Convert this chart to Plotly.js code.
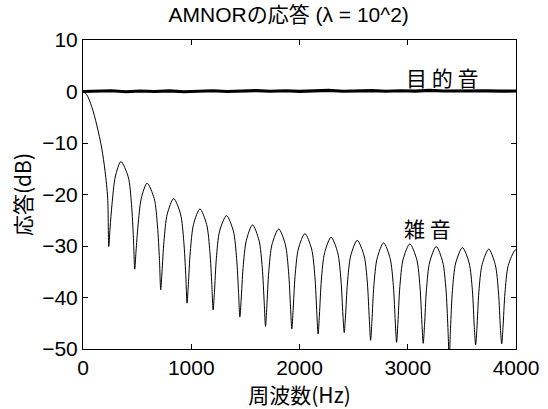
<!DOCTYPE html>
<html>
<head>
<meta charset="utf-8">
<script src="https://cdn.plot.ly/plotly-3.0.1.min.js"></script>
<style>html,body{margin:0;padding:0;background:#fff;}#chart{width:548px;height:409px;}</style>
</head>
<body>
<div id="chart"></div>
<script>
// Title / labels
const chartTitle = 'AMNORの応答 (λ = 10^2)';
const xLabel = '周波数(Hz)';
const yLabel = '応答(dB)';
const targetLabel = '目 的 音';
const noiseLabel = '雑 音';

// ticks
const xTicks = [0, 1000, 2000, 3000, 4000];
const yTicks = [-50, -40, -30, -20, -10, 0, 10];

// 目的音 (target) response, frequency (Hz) and level (dB)
const targetFreq = [0, 120, 260, 400, 530, 660, 800, 930, 1060, 1200, 1330, 1460, 1600, 1730, 1870, 2000, 2130, 2270, 2400, 2530, 2670, 2800, 2930, 3070, 3200, 3330, 3470, 3600, 3730, 3870, 4000];
const targetDb   = [0.0, 0.05, 0.15, -0.05, 0.1, 0.0, 0.12, -0.05, 0.08, 0.15, 0.0, 0.1, 0.18, 0.05, 0.15, 0.02, 0.1, 0.2, 0.05, 0.12, 0.18, 0.05, 0.15, 0.08, 0.2, 0.1, 0.15, 0.05, 0.12, 0.08, 0.1];

// 雑音 (noise) response, frequency (Hz) and level (dB)
const noiseFreq = [
  0, 34, 80, 127, 173, 204, 228,
  238, 250, 268, 298, 350, 418, 448, 466,
  478, 490, 508, 538, 592, 658, 688, 706,
  718, 730, 748, 778, 838, 901, 931, 949,
  961, 973, 991, 1021, 1080, 1142, 1172, 1190,
  1202, 1214, 1232, 1262, 1326, 1389, 1419, 1437,
  1449, 1461, 1479, 1509, 1566, 1626, 1656, 1674,
  1686, 1698, 1716, 1746, 1808, 1869, 1899, 1917,
  1929, 1941, 1959, 1989, 2050, 2112, 2142, 2160,
  2172, 2184, 2202, 2232, 2292, 2353, 2383, 2401,
  2413, 2425, 2443, 2473, 2533, 2597, 2627, 2645,
  2657, 2669, 2687, 2717, 2777, 2837, 2867, 2885,
  2897, 2909, 2927, 2957, 3019, 3083, 3113, 3131,
  3143, 3155, 3173, 3203, 3263, 3323, 3353, 3371,
  3383, 3395, 3413, 3443, 3505, 3567, 3597, 3615,
  3627, 3639, 3657, 3687, 3748, 3808, 3838, 3856,
  3868, 3880, 3898, 3928, 3990, 4000
];
const noiseDb = [
  0, -0.6, -2.9, -6.5, -11, -15.5, -20.7,
  -30.1, -26.5, -21.9, -16.6, -13.6, -16.6, -21.9, -28.5,
  -34.5, -31, -26.1, -20.8, -17.8, -20.8, -26.1, -32.5,
  -38.5, -35, -29.1, -23.8, -20.8, -23.8, -29.1, -35.5,
  -41.1, -37.5, -31.1, -25.8, -22.8, -25.8, -31.1, -37.5,
  -42.4, -39, -32.4, -27.1, -24.1, -27.1, -32.4, -39,
  -43.8, -40.5, -34.2, -28.9, -25.9, -28.9, -34.2, -41,
  -45.6, -41.8, -35, -29.7, -26.7, -29.7, -35, -41.8,
  -46.1, -42.5, -35.9, -30.6, -27.6, -30.6, -35.9, -43,
  -47.1, -43.4, -36.6, -31.3, -28.3, -31.3, -36.6, -43.4,
  -46.8, -43.6, -37.2, -31.9, -28.9, -31.9, -37.2, -44.2,
  -48.3, -44.6, -37.7, -32.4, -29.4, -32.4, -37.7, -44.8,
  -48.7, -45, -37.9, -32.6, -29.6, -32.6, -37.9, -45,
  -48.9, -45.4, -38.4, -33.1, -30.1, -33.1, -38.4, -45.8,
  -52, -46, -38.6, -33.3, -30.3, -33.3, -38.6, -45.8,
  -49.2, -46, -38.9, -33.6, -30.6, -33.6, -38.9, -46,
  -49, -45.8, -39.1, -33.8, -30.8, -30.8
];

const FONT = '"Liberation Sans", Arial, "Noto Sans CJK JP", sans-serif';
const CJK = '"Noto Sans CJK JP", "Liberation Sans", sans-serif';

const traces = [
  {x: noiseFreq, y: noiseDb, type: 'scatter', mode: 'lines',
   line: {color: '#000', width: 1, shape: 'spline', smoothing: 0.8}, hoverinfo: 'skip'},
  {x: targetFreq, y: targetDb, type: 'scatter', mode: 'lines',
   line: {color: '#000', width: 3.2}, hoverinfo: 'skip'}
];

const layout = {
  width: 548, height: 409,
  margin: {l: 83, r: 32, t: 40, b: 60},
  paper_bgcolor: '#fff', plot_bgcolor: '#fff',
  showlegend: false,
  font: {family: FONT, size: 21, color: '#000'},
  title: {text: chartTitle, font: {family: FONT, size: 21, color: '#000'},
          xref: 'paper', x: 0.475, xanchor: 'center', yref: 'container', y: 0.963, yanchor: 'middle'},
  xaxis: {range: [0, 4000], tickvals: xTicks, ticks: 'inside', ticklen: 5, tickcolor: '#000',
          showline: true, linecolor: '#000', linewidth: 1, mirror: 'ticks', showgrid: false, zeroline: false,
          tickfont: {family: FONT, size: 21, color: '#000'},
          title: {text: xLabel, font: {family: CJK, size: 21, color: '#000'}, standoff: 0}},
  yaxis: {range: [-50, 10], tickvals: yTicks, ticks: 'inside', ticklen: 5, tickcolor: '#000',
          showline: true, linecolor: '#000', linewidth: 1, mirror: 'ticks', showgrid: false, zeroline: false,
          tickfont: {family: FONT, size: 21, color: '#000'},
          title: {text: yLabel, font: {family: CJK, size: 21, color: '#000'}, standoff: 4}},
  annotations: [
    {x: 3313, y: 2.9, xref: 'x', yref: 'y', text: targetLabel, showarrow: false,
     font: {family: CJK, size: 21, color: '#000'}, xanchor: 'center', yanchor: 'middle'},
    {x: 3182, y: -26.5, xref: 'x', yref: 'y', text: noiseLabel, showarrow: false,
     font: {family: CJK, size: 21, color: '#000'}, xanchor: 'center', yanchor: 'middle'}
  ]
};

Plotly.newPlot('chart', traces, layout, {staticPlot: true, displayModeBar: false});
</script>
</body>
</html>
